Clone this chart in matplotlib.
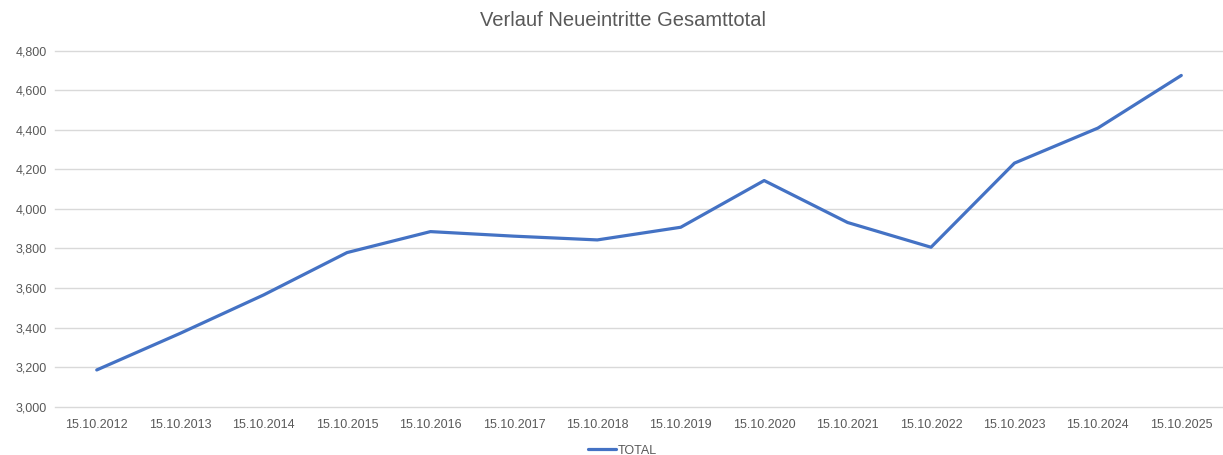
import matplotlib.pyplot as plt
from matplotlib.ticker import FuncFormatter

# Verlauf Neueintritte Gesamttotal
datum = ['15.10.2012', '15.10.2013', '15.10.2014', '15.10.2015', '15.10.2016',
         '15.10.2017', '15.10.2018', '15.10.2019', '15.10.2020', '15.10.2021',
         '15.10.2022', '15.10.2023', '15.10.2024', '15.10.2025']
total = [3186, 3371, 3565, 3779, 3885, 3862, 3843, 3907, 4143, 3931,
         3806, 4231, 4408, 4674]

plt.rcParams['font.family'] = ['Liberation Sans', 'DejaVu Sans']
grau = '#595959'

fig = plt.figure(figsize=(12.23, 4.55), dpi=100)
ax = fig.add_axes([0.045, 0.106, 0.955, 0.783])

x = range(len(datum))
ax.plot(x, total, color='#4472C4', linewidth=2.3, label='TOTAL',
        solid_joinstyle='round', solid_capstyle='round')

ax.set_xlim(-0.5, len(datum) - 0.5)
ax.set_ylim(3000, 4800)
ax.set_yticks(range(3000, 4801, 200))
ax.yaxis.set_major_formatter(FuncFormatter(lambda v, p: f'{int(v):,}'))
ax.set_xticks(list(x))
ax.set_xticklabels(datum)

ax.grid(axis='y', color='#D9D9D9', linewidth=1)
for g in ax.get_ygridlines():
    g.set_clip_on(False)
ax.set_axisbelow(True)
for s in ax.spines.values():
    s.set_visible(False)
ax.tick_params(length=0, colors=grau, labelsize=9)
ax.tick_params(axis='x', pad=9)
ax.tick_params(axis='y', pad=6)

fig.suptitle('Verlauf Neueintritte Gesamttotal', x=0.509, y=0.975,
             fontsize=14.5, color=grau)
ax.legend(loc='upper center', bbox_to_anchor=(0.486, -0.075), frameon=False,
          fontsize=9, labelcolor=grau, handlelength=2.2, handletextpad=0.2)

fig.savefig('out.png', dpi=100)
